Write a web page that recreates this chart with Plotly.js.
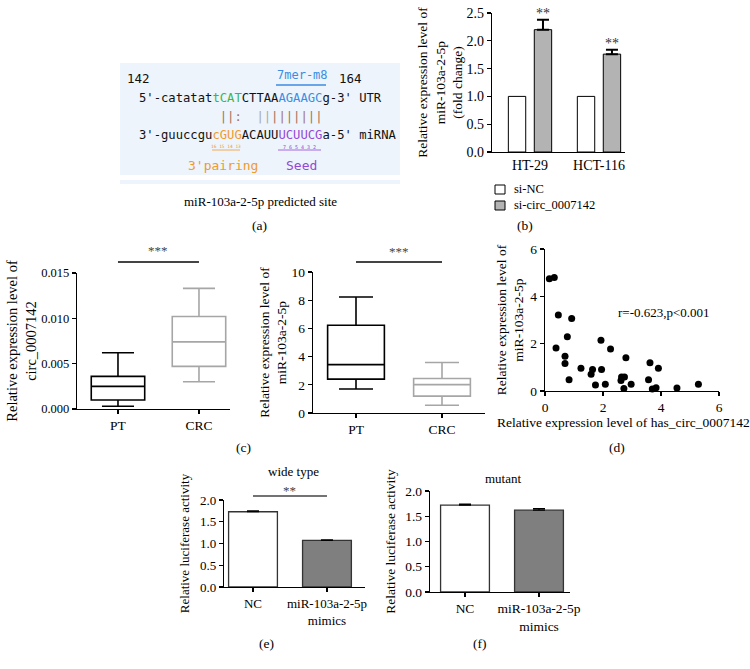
<!DOCTYPE html>
<html>
<head>
<meta charset="utf-8">
<script src="https://cdn.plot.ly/plotly-3.0.1.min.js"></script>
<style>html,body{margin:0;padding:0;background:#fff;}#chart{width:750px;height:669px;}</style>
</head>
<body>
<div id="chart"></div>
<script>
// ---------- data ----------
// (b) miR-103a-2-5p after circ knockdown
const cellLines = ['HT-29', 'HCT-116'];
const seriesNames = ['si-NC', 'si-circ_0007142'];
const siNC = [1.0, 1.0];
const siCirc = [2.20, 1.76];
const siCircErr = [0.18, 0.08];
// (c) box stats: [lower whisker, Q1, median, Q3, upper whisker]
const tissueGroups = ['PT', 'CRC'];
const circPT = [0.0003, 0.0010, 0.0025, 0.0036, 0.0062];
const circCRC = [0.0030, 0.0047, 0.0074, 0.0102, 0.0133];
const mirPT = [1.7, 2.4, 3.43, 6.22, 8.23];
const mirCRC = [0.55, 1.2, 2.01, 2.45, 3.58];
// (d) correlation
const circLevel = [0.15, 0.32, 0.46, 0.38, 0.92, 0.77, 0.69, 0.69, 0.83, 1.24, 1.59, 1.64, 1.74, 1.93, 1.95, 2.08, 2.26, 2.62, 2.64, 2.74, 2.72, 2.79, 2.97, 3.57, 3.62, 3.70, 3.83, 3.91, 4.55, 5.29];
const mirLevel  = [4.74, 4.80, 3.21, 1.82, 3.06, 2.29, 1.47, 1.16, 0.48, 0.96, 0.71, 0.91, 0.25, 2.14, 0.91, 0.28, 1.77, 0.44, 0.59, 0.59, 0.11, 1.41, 0.28, 0.48, 1.19, 0.08, 0.14, 0.96, 0.13, 0.28];
// (e)/(f) luciferase
const lucGroups = ['NC', 'miR-103a-2-5p<br>mimics'];
const wildVals = [1.73, 1.07];
const wildErr = [0.02, 0.015];
const mutVals = [1.72, 1.62];
const mutErr = [0.02, 0.03];

// ---------- helpers ----------
const W = 750, H = 669;
const px = x => x / W;
const py = y => 1 - y / H;
const SERIF = 'Liberation Serif, Times New Roman, serif';
const MONO = 'DejaVu Sans Mono, monospace';
const S = '\u00a0';

function axBase(extra) {
  return Object.assign({
    showline: true, linecolor: '#000', linewidth: 1.2,
    ticks: 'outside', ticklen: 4, tickwidth: 1.2, tickcolor: '#000',
    showgrid: false, zeroline: false, fixedrange: true,
    tickfont: {family: SERIF, size: 13, color: '#000'}
  }, extra);
}
function ytitle(text, standoff, size) {
  return {text: text, standoff: standoff, font: {family: SERIF, size: size || 13.5, color: '#000'}};
}
function boxTrace(stats, name, color, xa, ya) {
  return {
    type: 'box', x: [name], lowerfence: [stats[0]], q1: [stats[1]], median: [stats[2]],
    q3: [stats[3]], upperfence: [stats[4]], xaxis: xa, yaxis: ya,
    fillcolor: '#ffffff', line: {color: color, width: 1.6}, width: 0.66,
    whiskerwidth: 0.6, boxpoints: false, showlegend: false, hoverinfo: 'skip'
  };
}

const traces = [
  // (b)
  {type: 'bar', name: seriesNames[0], x: cellLines, y: siNC, xaxis: 'x', yaxis: 'y', showlegend: false,
   width: 0.252, offset: -0.314, marker: {color: '#ffffff', line: {color: '#000', width: 1}}},
  {type: 'bar', name: seriesNames[1], x: cellLines, y: siCirc, xaxis: 'x', yaxis: 'y', showlegend: false,
   width: 0.252, offset: 0.062, marker: {color: '#b3b3b3', line: {color: '#000', width: 1}},
   error_y: {type: 'data', symmetric: false, array: siCircErr, arrayminus: [0, 0], color: '#000', thickness: 2, width: 6}},
  // (c)
  boxTrace(circPT, tissueGroups[0], '#000000', 'x2', 'y2'),
  boxTrace(circCRC, tissueGroups[1], '#a6a6a6', 'x2', 'y2'),
  boxTrace(mirPT, tissueGroups[0], '#000000', 'x3', 'y3'),
  boxTrace(mirCRC, tissueGroups[1], '#a6a6a6', 'x3', 'y3'),
  // (d)
  {type: 'scatter', mode: 'markers', x: circLevel, y: mirLevel, xaxis: 'x4', yaxis: 'y4',
   marker: {color: '#000', size: 7}, showlegend: false, cliponaxis: false},
  // (e)
  {type: 'bar', x: lucGroups, y: wildVals, xaxis: 'x5', yaxis: 'y5', width: 0.66, showlegend: false,
   marker: {color: ['#ffffff', '#7f7f7f'], line: {color: '#333', width: 1.3}},
   error_y: {type: 'data', symmetric: false, array: wildErr, arrayminus: [0, 0], color: '#000', thickness: 1.2, width: 6}},
  // (f)
  {type: 'bar', x: lucGroups, y: mutVals, xaxis: 'x6', yaxis: 'y6', width: 0.66, showlegend: false,
   marker: {color: ['#ffffff', '#7f7f7f'], line: {color: '#333', width: 1.3}},
   error_y: {type: 'data', symmetric: false, array: mutErr, arrayminus: [0, 0], color: '#000', thickness: 1.2, width: 6}}
];

// ---------- annotations ----------
const ann = [];
function txt(x, y, text, opts) {
  ann.push(Object.assign({xref: 'paper', yref: 'paper', x: px(x), y: py(y), text: text, showarrow: false,
    font: {family: SERIF, size: 13, color: '#000'}, xanchor: 'center', yanchor: 'middle'}, opts || {}));
}
const sp = (c, t) => `<span style="color:${c}">${t}</span>`;
const GREEN = '#3db54a', BLUE = '#3b8de3', ORANGE = '#f09a2e', PURPLE = '#9448d6', BROWN = '#a46f55', GREY = '#a8a8a8';
const monoF = (size, color) => ({family: MONO, size: size, color: color || '#111'});

// (a) sequence diagram
txt(125, 79, '142', {xanchor: 'left', font: monoF(12.5)});
txt(275, 75, '7mer-m8', {xanchor: 'left', font: monoF(12, BLUE)});
txt(337, 79, '164', {xanchor: 'left', font: monoF(12.5)});
txt(137, 98, "5'-catatat" + sp(GREEN, 'tCAT') + 'CTTAA' + sp(BLUE, 'AGAAGC') + "g-3'" + S + 'UTR', {xanchor: 'left', font: monoF(12.2)});
txt(137, 117, S.repeat(11) + sp(BROWN, '||:') + S + S + sp(GREY, '||') + sp(BROWN, '|||||||'), {xanchor: 'left', font: monoF(12.2)});
txt(137, 135, "3'-guuccgu" + sp(ORANGE, 'cGUG') + 'ACAUU' + sp(PURPLE, 'UCUUCG') + "a-5'" + S + 'miRNA', {xanchor: 'left', font: monoF(12.2)});
txt(226, 147, '16 15 14 13', {font: monoF(4.5, ORANGE)});
txt(299, 147, '7' + S + '6' + S + '5' + S + '4' + S + '3' + S + '2', {font: monoF(5, PURPLE)});
txt(186, 165, "3'pairing", {xanchor: 'left', font: monoF(13, ORANGE)});
txt(284, 165, 'Seed', {xanchor: 'left', font: monoF(13, PURPLE)});
txt(260, 201, 'miR-103a-2-5p predicted site');
txt(259, 225, '(a)', {font: {family: SERIF, size: 13.5, color: '#000'}});

// (b) significance + legend
for (let i = 0; i < cellLines.length; i++) {
  ann.push({xref: 'x', yref: 'y', x: i + 0.062 + 0.126, y: siCirc[i] + siCircErr[i], text: '**', showarrow: false,
    yanchor: 'bottom', yshift: -3, font: {family: SERIF, size: 14, color: '#333'}});
}
txt(512, 189, seriesNames[0], {xanchor: 'left', font: {family: SERIF, size: 12.5, color: '#000'}});
txt(512, 205, seriesNames[1], {xanchor: 'left', font: {family: SERIF, size: 12.5, color: '#000'}});
txt(525, 226, '(b)', {font: {family: SERIF, size: 13.5, color: '#000'}});

// (c)
ann.push({xref: 'x2', yref: 'paper', x: 0.5, y: py(250), yanchor: 'middle', text: '***', showarrow: false, font: {family: SERIF, size: 13, color: '#444'}});
ann.push({xref: 'x3', yref: 'paper', x: 0.5, y: py(252), yanchor: 'middle', text: '***', showarrow: false, font: {family: SERIF, size: 13, color: '#444'}});
txt(243, 447, '(c)', {font: {family: SERIF, size: 13.5, color: '#000'}});

// (d)
txt(664, 312, 'r=-0.623,p&lt;0.001', {font: {family: SERIF, size: 13, color: '#000'}});
txt(623, 422, 'Relative expression level of has_circ_0007142', {font: {family: SERIF, size: 13.5, color: '#000'}});
txt(617, 447, '(d)', {font: {family: SERIF, size: 13.5, color: '#000'}});

// (e)/(f)
txt(293, 471, 'wide type');
ann.push({xref: 'x5', yref: 'paper', x: 0.5, y: py(490), yanchor: 'middle', text: '**', showarrow: false, font: {family: SERIF, size: 13, color: '#444'}});
txt(503, 478, 'mutant');
txt(266, 643, '(e)', {font: {family: SERIF, size: 13.5, color: '#000'}});
txt(480, 643, '(f)', {font: {family: SERIF, size: 13.5, color: '#000'}});

// ---------- shapes ----------
const shapes = [
  {type: 'rect', xref: 'paper', yref: 'paper', x0: px(120), x1: px(400), y0: py(175), y1: py(63), fillcolor: '#edf4fc', line: {width: 0}, layer: 'below'},
  {type: 'rect', xref: 'paper', yref: 'paper', x0: px(120), x1: px(400), y0: py(184), y1: py(180), fillcolor: '#edf4fc', line: {width: 0}, layer: 'below'},
  {type: 'line', xref: 'paper', yref: 'paper', x0: px(276), x1: px(326), y0: py(85), y1: py(85), line: {color: BLUE, width: 1.3}},
  {type: 'line', xref: 'paper', yref: 'paper', x0: px(212), x1: px(240), y0: py(150), y1: py(150), line: {color: ORANGE, width: 0.8}},
  {type: 'line', xref: 'paper', yref: 'paper', x0: px(278), x1: px(321), y0: py(150), y1: py(150), line: {color: PURPLE, width: 0.8}},
  // legend swatches for (b)
  {type: 'rect', xref: 'paper', yref: 'paper', x0: px(495), x1: px(505), y0: py(194), y1: py(185), fillcolor: '#ffffff', line: {color: '#000', width: 1}},
  {type: 'rect', xref: 'paper', yref: 'paper', x0: px(495), x1: px(505), y0: py(210), y1: py(201), fillcolor: '#b3b3b3', line: {color: '#000', width: 1}},
  // significance bars
  {type: 'line', xref: 'x2', yref: 'paper', x0: 0, x1: 1, y0: py(262), y1: py(262), line: {color: '#444', width: 2}},
  {type: 'line', xref: 'x3', yref: 'paper', x0: 0, x1: 1, y0: py(262), y1: py(262), line: {color: '#444', width: 2}},
  {type: 'line', xref: 'x5', yref: 'paper', x0: 0, x1: 1, y0: py(496), y1: py(496), line: {color: '#444', width: 1.5}}
];

const layout = {
  width: W, height: H, margin: {l: 0, r: 0, t: 0, b: 0},
  paper_bgcolor: '#fff', plot_bgcolor: 'rgba(0,0,0,0)',
  font: {family: SERIF, size: 13, color: '#000'},
  barmode: 'overlay', boxmode: 'overlay',
  showlegend: false,
  // (b)
  xaxis: axBase({domain: [px(492), px(625)], range: [-0.551, 1.377], anchor: 'y', ticks: '', tickfont: {family: SERIF, size: 14, color: '#000'}}),
  yaxis: axBase({domain: [py(152), py(13)], range: [0, 2.5], dtick: 0.5, tickformat: '.1f', anchor: 'x',
    tickfont: {family: SERIF, size: 14, color: '#000'},
    title: ytitle('Relative expression level of<br>miR-103a-2-5p<br>(fold change)', 0, 13.5)}),
  // (c) left
  xaxis2: axBase({domain: [px(77), px(230)], range: [-0.506, 1.383], anchor: 'y2', tickfont: {family: SERIF, size: 13.5, color: '#000'}}),
  yaxis2: axBase({domain: [py(409), py(273)], range: [0, 0.015], dtick: 0.005, tickformat: '.3f', anchor: 'x2',
    tickfont: {family: SERIF, size: 12.5, color: '#000'},
    title: ytitle('Relative expression level of<br>circ_0007142', 1, 14.5)}),
  // (c) right
  xaxis3: axBase({domain: [px(313), px(485)], range: [-0.5, 1.5], anchor: 'y3', tickfont: {family: SERIF, size: 13.5, color: '#000'}}),
  yaxis3: axBase({domain: [py(413), py(272)], range: [0, 10], dtick: 2, anchor: 'x3', tickfont: {family: SERIF, size: 13.5, color: '#000'},
    title: ytitle('Relative expression level of<br>miR-103a-2-5p', 1, 13.5)}),
  // (d)
  xaxis4: axBase({domain: [px(545), px(719)], range: [0, 6], dtick: 2, anchor: 'y4', tickfont: {family: SERIF, size: 13.5, color: '#000'}}),
  yaxis4: axBase({domain: [py(391), py(249)], range: [0, 6], dtick: 2, anchor: 'x4', tickfont: {family: SERIF, size: 13.5, color: '#000'},
    title: ytitle('Relative expression level of<br>miR-103a-2-5p', 3, 13.5)}),
  // (e)
  xaxis5: axBase({domain: [px(224), px(365)], range: [-0.392, 1.514], anchor: 'y5'}),
  yaxis5: axBase({domain: [py(587), py(500)], range: [0, 2], dtick: 0.5, tickformat: '.1f', anchor: 'x5',
    title: ytitle('Relative luciferase activity', 7, 13)}),
  // (f)
  xaxis6: axBase({domain: [px(430), px(570)], range: [-0.473, 1.419], anchor: 'y6', tickfont: {family: SERIF, size: 13.5, color: '#000'}}),
  yaxis6: axBase({domain: [py(592), py(491)], range: [0, 2], dtick: 0.5, tickformat: '.1f', anchor: 'x6', tickfont: {family: SERIF, size: 13.5, color: '#000'},
    title: ytitle('Relative luciferase activity', 6, 13.5)}),
  annotations: ann,
  shapes: shapes
};

Plotly.newPlot('chart', traces, layout, {staticPlot: true, displayModeBar: false});
</script>
</body>
</html>
